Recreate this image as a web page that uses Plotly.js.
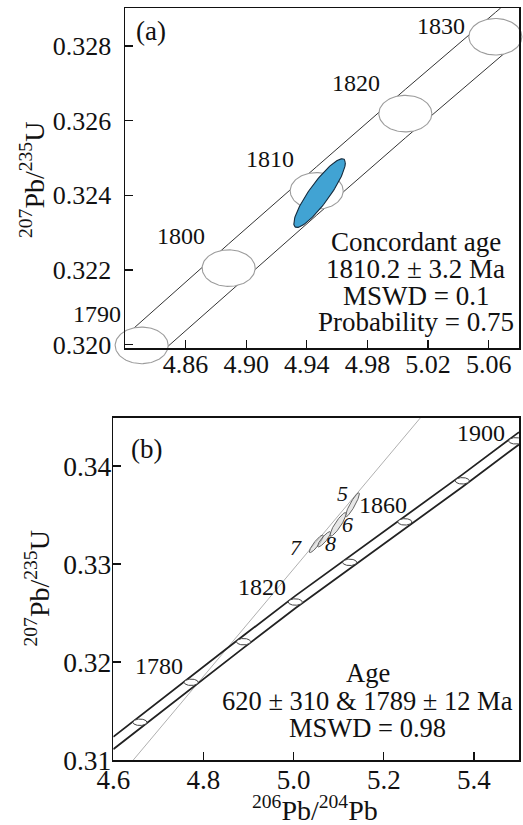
<!DOCTYPE html>
<html><head><meta charset="utf-8">
<script src="https://cdn.plot.ly/plotly-3.0.1.min.js"></script>
<style>html,body{margin:0;padding:0;background:#fff}#chart{width:523px;height:825px}</style>
</head><body><div id="chart"></div>
<script>
// ---------- DATA ----------
// Panel (a): concordia age markers
const agesA   = [1790, 1800, 1810, 1820, 1830];
const agesA_x = [4.831, 4.8884, 4.9465, 5.005, 5.0644];
const agesA_y = [0.31998, 0.32205, 0.32412, 0.32619, 0.32825];
const agesA_sx = [0.0175, 0.0175, 0.0175, 0.0175, 0.0175];
const agesA_sy = [0.00049, 0.00049, 0.00049, 0.00049, 0.00049];
// Panel (a): concordia error envelope
const upperA_x = [4.8211, 4.831, 4.8884, 4.9465, 5.005, 5.0644, 5.0679];
const upperA_y = [0.32027, 0.32063, 0.3227, 0.32477, 0.32684, 0.3289, 0.32902];
const lowerA_x = [4.8471, 4.8884, 4.9465, 5.005, 5.0644, 5.08];
const lowerA_y = [0.31991, 0.3214, 0.32347, 0.32554, 0.3276, 0.32814];
// Panel (a): concordant age ellipse
const concX = [4.9484], concY = [0.32406], concSx = [0.0170], concSy = [0.00092], concRho = [0.88];
const concText = ["Concordant age", "1810.2 \u00b1 3.2 Ma", "MSWD = 0.1", "Probability = 0.75"];
const ticksAx = [4.86, 4.90, 4.94, 4.98, 5.02, 5.06];
const ticksAy = [0.320, 0.322, 0.324, 0.326, 0.328];

// Panel (b): concordia age markers
const agesB   = [1760, 1780, 1800, 1820, 1840, 1860, 1880, 1900];
const agesB_x = [4.659, 4.7727, 4.8889, 5.0037, 5.1244, 5.2467, 5.3742, 5.4926];
const agesB_y = [0.31385, 0.31793, 0.32207, 0.32612, 0.33017, 0.3343, 0.33849, 0.34257];
const agesB_sx = 0.0156, agesB_sy = 0.00033;
const labelledB = [1780, 1820, 1860, 1900];
// Panel (b): concordia error envelope
const envB_x   = [4.6, 4.659, 4.7727, 4.8889, 5.0037, 5.1244, 5.2467, 5.3742, 5.4926, 5.5];
const upperB_y = [0.31236, 0.31448, 0.31856, 0.3227, 0.32675, 0.3308, 0.33493, 0.33912, 0.3432, 0.34345];
const lowerB_y = [0.31110, 0.31322, 0.3173, 0.32144, 0.32549, 0.32954, 0.33367, 0.33786, 0.34194, 0.34219];
// Panel (b): discordia line
const discX = [4.6444, 5.2815];
const discY = [0.31, 0.34493];
// Panel (b): analyses
const spotLabels = ["5", "6", "7", "8"];
const spotX   = [5.1304, 5.0986, 5.0504, 5.0677];
const spotY   = [0.33604, 0.33404, 0.33206, 0.33252];
const spotSx  = [0.0156, 0.0180, 0.0157, 0.0145];
const spotSy  = [0.00123, 0.00121, 0.00090, 0.00078];
const spotRho = [0.915, 0.898, 0.897, 0.873];
const ageText = ["Age", "620 \u00b1 310 &amp; 1789 \u00b1 12 Ma", "MSWD = 0.98"];
const ticksBx = [4.6, 4.8, 5.0, 5.2, 5.4];
const ticksBy = [0.31, 0.32, 0.33, 0.34];

// ---------- LAYOUT GEOMETRY ----------
const W = 523, H = 825;
const FONT = "Liberation Serif";
const fnt = (size, extra) => Object.assign({family: FONT, size: size, color: '#111'}, extra || {});
const px = v => v / W, py = v => 1 - v / H;
const frameA = {l: 125, r: 519, t: 8, b: 348, xr: [4.82, 5.08], yr: [0.31991, 0.32902]};
const frameB = {l: 113.3, r: 519, t: 417.7, b: 760, xr: [4.6, 5.5], yr: [0.31, 0.34493]};
// extended (unclipped) drawing area for panel (a)
const extA = {l: 65, r: 523, t: 0, b: 378};
const kx = (frameA.xr[1] - frameA.xr[0]) / (frameA.r - frameA.l);
const ky = (frameA.yr[1] - frameA.yr[0]) / (frameA.b - frameA.t);
const extXr = [frameA.xr[0] - (frameA.l - extA.l) * kx, frameA.xr[1] + (extA.r - frameA.r) * kx];
const extYr = [frameA.yr[0] - (extA.b - frameA.b) * ky, frameA.yr[1] + (frameA.t - extA.t) * ky];

const tt = Array.from({length: 121}, (_, i) => i * 2 * Math.PI / 120);
function ellipse(cx, cy, sx, sy, rho) {
  const r = Math.sqrt(1 - rho * rho);
  return {x: tt.map(a => cx + sx * Math.cos(a)), y: tt.map(a => cy + sy * (rho * Math.cos(a) + r * Math.sin(a)))};
}

const traces = [];
// panel (a) on data axes x/y
traces.push({x: upperA_x, y: upperA_y, xaxis: 'x', yaxis: 'y', mode: 'lines', line: {color: '#333', width: 1}, hoverinfo: 'skip', showlegend: false});
traces.push({x: lowerA_x, y: lowerA_y, xaxis: 'x', yaxis: 'y', mode: 'lines', line: {color: '#333', width: 1}, hoverinfo: 'skip', showlegend: false});
agesA.forEach((a, i) => {
  const e = ellipse(agesA_x[i], agesA_y[i], agesA_sx[i], agesA_sy[i], 0);
  traces.push({x: e.x, y: e.y, xaxis: 'x', yaxis: 'y', mode: 'lines', fill: 'toself', fillcolor: '#ffffff',
    line: {color: '#9c9c9c', width: 1.1}, hoverinfo: 'skip', showlegend: false});
});
concX.forEach((c, i) => {
  const e = ellipse(concX[i], concY[i], concSx[i], concSy[i], concRho[i]);
  traces.push({x: e.x, y: e.y, xaxis: 'x', yaxis: 'y', mode: 'lines', fill: 'toself', fillcolor: '#41a3d3',
    line: {color: '#142a3c', width: 1.1}, hoverinfo: 'skip', showlegend: false});
});
// panel (b)
traces.push({x: discX, y: discY, xaxis: 'x2', yaxis: 'y2', mode: 'lines', line: {color: '#b0b0b0', width: 1}, hoverinfo: 'skip', showlegend: false});
traces.push({x: envB_x, y: upperB_y, xaxis: 'x2', yaxis: 'y2', mode: 'lines', line: {color: '#222', width: 1.8}, hoverinfo: 'skip', showlegend: false});
traces.push({x: envB_x, y: lowerB_y, xaxis: 'x2', yaxis: 'y2', mode: 'lines', line: {color: '#222', width: 1.8}, hoverinfo: 'skip', showlegend: false});
agesB.forEach((a, i) => {
  const e = ellipse(agesB_x[i], agesB_y[i], agesB_sx, agesB_sy, 0);
  traces.push({x: e.x, y: e.y, xaxis: 'x2', yaxis: 'y2', mode: 'lines', fill: 'toself', fillcolor: '#ffffff',
    line: {color: '#444', width: 1}, hoverinfo: 'skip', showlegend: false});
});
spotLabels.forEach((s, i) => {
  const e = ellipse(spotX[i], spotY[i], spotSx[i], spotSy[i], spotRho[i]);
  traces.push({x: e.x, y: e.y, xaxis: 'x2', yaxis: 'y2', mode: 'lines', fill: 'toself', fillcolor: 'rgba(215,215,215,0.6)',
    line: {color: '#555', width: 0.9}, hoverinfo: 'skip', showlegend: false});
});
// dummy trace to create the visible frame of panel (a)
traces.push({x: [], y: [], xaxis: 'x3', yaxis: 'y3', mode: 'markers', hoverinfo: 'skip', showlegend: false});

const annotations = [];
const ann = o => annotations.push(Object.assign({showarrow: false, xanchor: 'center', yanchor: 'middle'}, o));
const shiftA = [[-45, 31.4], [-47.7, 32.3], [-46.7, 31.7], [-49.3, 31], [-54.6, 10.7]];
agesA.forEach((a, i) => ann({x: agesA_x[i], y: agesA_y[i], xref: 'x', yref: 'y', text: String(a),
  xshift: shiftA[i][0], yshift: shiftA[i][1], font: fnt(24)}));
const shiftB = [[-31.7, 16.3], [-33.3, 15.3], [-21.6, 16.7], [-35, 7.4]];
labelledB.forEach((a, j) => {
  const i = agesB.indexOf(a);
  ann({x: agesB_x[i], y: agesB_y[i], xref: 'x2', yref: 'y2', text: String(a),
    xshift: shiftB[j][0], yshift: shiftB[j][1], font: fnt(24)});
});
const shiftSpot = [[-9.5, 11.7], [9, 0], [-20, -3.3], [6.2, -3.8]];
spotLabels.forEach((s, i) => ann({x: spotX[i], y: spotY[i], xref: 'x2', yref: 'y2', text: '<i>' + s + '</i>',
  xshift: shiftSpot[i][0], yshift: shiftSpot[i][1], font: fnt(22)}));
const concYpx = [242.3, 269, 295.6, 322.4];
concText.forEach((s, i) => ann({x: px(415.7), y: py(concYpx[i]), xref: 'paper', yref: 'paper', text: s, font: fnt(27)}));
const ageYpx = [673.3, 701.2, 728];
ageText.forEach((s, i) => ann({x: px(367.5), y: py(ageYpx[i]), xref: 'paper', yref: 'paper', text: s, font: fnt(26.5)}));
ann({x: px(150.7), y: py(31), xref: 'paper', yref: 'paper', text: '(a)', font: fnt(27)});
ann({x: px(146.7), y: py(449.5), xref: 'paper', yref: 'paper', text: '(b)', font: fnt(27)});
ann({x: px(33), y: py(180), xref: 'paper', yref: 'paper', text: '<sup>207</sup>Pb/<sup>235</sup>U', textangle: -90, font: fnt(28)});
ann({x: px(38), y: py(588.5), xref: 'paper', yref: 'paper', text: '<sup>207</sup>Pb/<sup>235</sup>U', textangle: -90, font: fnt(28)});
ann({x: px(315), y: py(808), xref: 'paper', yref: 'paper', text: '<sup>206</sup>Pb/<sup>204</sup>Pb', font: fnt(28)});

const frameAxis = {showline: true, mirror: true, linecolor: '#111', linewidth: 1.5, ticks: 'inside', ticklen: 8,
  tickwidth: 1.2, tickcolor: '#111', showgrid: false, zeroline: false, tickfont: fnt(26), fixedrange: true};

const layout = {
  width: W, height: H, autosize: false,
  margin: {l: 0, r: 0, t: 0, b: 0, pad: 0},
  paper_bgcolor: '#ffffff', plot_bgcolor: 'rgba(0,0,0,0)',
  font: fnt(20),
  showlegend: false,
  xaxis: {domain: [px(extA.l), px(extA.r)], range: extXr, visible: false, anchor: 'y', fixedrange: true},
  yaxis: {domain: [py(extA.b), py(extA.t)], range: extYr, visible: false, anchor: 'x', fixedrange: true},
  xaxis3: Object.assign({}, frameAxis, {domain: [px(frameA.l), px(frameA.r)], range: frameA.xr, anchor: 'y3',
    tickvals: ticksAx, tickformat: '.2f', ticklabelstandoff: -8}),
  yaxis3: Object.assign({}, frameAxis, {domain: [py(frameA.b), py(frameA.t)], range: frameA.yr, anchor: 'x3',
    tickvals: ticksAy, tickformat: '.3f', ticklabelstandoff: 7}),
  xaxis2: Object.assign({}, frameAxis, {domain: [px(frameB.l), px(frameB.r)], range: frameB.xr, anchor: 'y2',
    tickvals: ticksBx, tickformat: '.1f', tickfont: fnt(27), ticklabelstandoff: -5}),
  yaxis2: Object.assign({}, frameAxis, {domain: [py(frameB.b), py(frameB.t)], range: frameB.yr, anchor: 'x2',
    tickvals: ticksBy, tickformat: '.2f', tickfont: fnt(27.5), ticklabelstandoff: -5}),
  annotations: annotations
};

Plotly.newPlot('chart', traces, layout, {displayModeBar: false, staticPlot: true});
</script>
</body></html>
